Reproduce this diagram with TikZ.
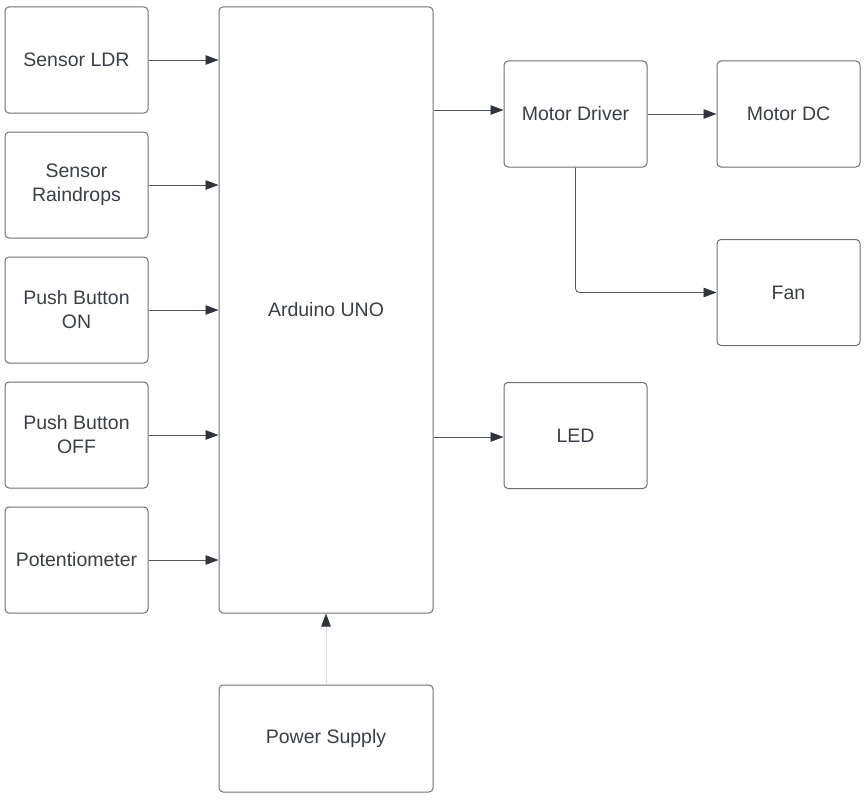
\documentclass[tikz,border=0pt]{standalone}
\usepackage{fontspec}
\setmainfont{Liberation Sans}
\usetikzlibrary{arrows.meta}
\definecolor{boxc}{HTML}{6A6E75}
\definecolor{linec}{HTML}{50545B}
\definecolor{textc}{HTML}{3A3E47}
\definecolor{tipc}{HTML}{2F333B}
\definecolor{lightc}{HTML}{DCDCDC}
\begin{document}
\begin{tikzpicture}[x=1pt,y=-1pt,
  box/.style={draw=boxc, line width=1pt, rounded corners=4pt, minimum width=143pt, minimum height=106pt, inner sep=0pt, align=center, text=textc, font=\fontsize{19.5}{24}\selectfont},
  conn/.style={draw=linec, line width=0.8pt, -{Triangle[length=13pt,width=9.5pt,fill=tipc,color=tipc]}}
]
\useasboundingbox (0,0) rectangle (868,800);
\node[box] (ldr) at (76.5,60) {Sensor LDR};
\node[box] (rain) at (76.5,185) {Sensor\\Raindrops};
\node[box] (on) at (76.5,310) {Push Button\\ON};
\node[box] (off) at (76.5,435) {Push Button\\OFF};
\node[box] (pot) at (76.5,560) {Potentiometer};
\node[box, minimum width=214pt, minimum height=606pt] (ard) at (326,310) {Arduino UNO};
\node[box] (md) at (575.5,114) {Motor Driver};
\node[box] (mdc) at (788.5,114) {Motor DC};
\node[box] (fan) at (788.5,292.5) {Fan};
\node[box] (led) at (575.5,435.5) {LED};
\node[box, minimum width=214pt, minimum height=107pt] (ps) at (326,738.5) {Power Supply};
\foreach \n in {ldr,rain,on,off,pot}{
  \draw[conn] (\n.east) -- (\n.east -| ard.west);
}
\coordinate (a1) at (ard.east |- 0,110);
\draw[conn] (a1) -- (a1 -| md.west);
\draw[conn] (md.east) -- (mdc.west);
\draw[conn, rounded corners=4pt] (md.south) |- (fan.west);
\coordinate (a2) at (ard.east |- 0,437);
\draw[conn] (a2) -- (a2 -| led.west);
\draw[conn, draw=lightc] (ps.north) -- (ard.south);
\end{tikzpicture}
\end{document}
